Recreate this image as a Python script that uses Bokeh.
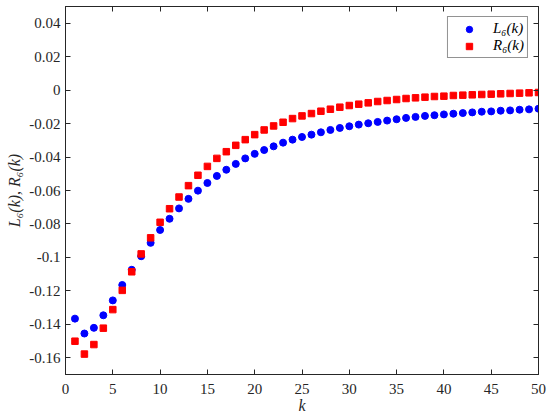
from bokeh.plotting import figure
from bokeh.models import Range1d, LinearAxis, FixedTicker, CustomJSTickFormatter
from bokeh.embed import file_html
from bokeh.resources import INLINE

k = list(range(1, 51))
L6 = [-0.1366, -0.1455, -0.1421, -0.1346, -0.1257, -0.1165, -0.1074, -0.0993, -0.0913, -0.0836,
      -0.0769, -0.0707, -0.0650, -0.0601, -0.0555, -0.0513, -0.0476, -0.0441, -0.0408, -0.0381,
      -0.0358, -0.0336, -0.0314, -0.0296, -0.0280, -0.0266, -0.0252, -0.0238, -0.0226, -0.0216,
      -0.0206, -0.0198, -0.0190, -0.0182, -0.0174, -0.0166, -0.0160, -0.0154, -0.0150, -0.0145,
      -0.0141, -0.0137, -0.0133, -0.0129, -0.0127, -0.0123, -0.0121, -0.0117, -0.0115, -0.0111]
R6 = [-0.1501, -0.1578, -0.1521, -0.1423, -0.1312, -0.1197, -0.1086, -0.0979, -0.0883, -0.0790,
      -0.0709, -0.0639, -0.0571, -0.0509, -0.0456, -0.0408, -0.0368, -0.0330, -0.0296, -0.0266,
      -0.0238, -0.0214, -0.0192, -0.0170, -0.0154, -0.0140, -0.0126, -0.0114, -0.0102, -0.0092,
      -0.0084, -0.0076, -0.0068, -0.0062, -0.0056, -0.0050, -0.0046, -0.0042, -0.0038, -0.0036,
      -0.0032, -0.0030, -0.0028, -0.0026, -0.0024, -0.0022, -0.0020, -0.0018, -0.0016, -0.0014]
x_ticks = [0, 5, 10, 15, 20, 25, 30, 35, 40, 45, 50]
y_ticks = [-0.16, -0.14, -0.12, -0.1, -0.08, -0.06, -0.04, -0.02, 0, 0.02, 0.04]
x_label = "k"
y_label = "L\u2086(k), R\u2086(k)"
series_labels = ["L\u2086(k)", "R\u2086(k)"]

AX = "#262626"
FONT = "Liberation Serif"

p = figure(width=550, height=417, output_backend="svg", toolbar_location=None,
           x_range=Range1d(0, 50), y_range=Range1d(-0.17, 0.05),
           min_border_left=65, min_border_right=12, min_border_top=6, min_border_bottom=43,
           x_axis_label=x_label, y_axis_label=y_label)
p.grid.visible = False
p.outline_line_color = AX
p.outline_line_width = 1

fmt = CustomJSTickFormatter(code="return (Math.round(tick*1000)/1000).toString();")

def style(ax, ticks, show):
    ax.ticker = FixedTicker(ticks=ticks)
    ax.formatter = fmt
    ax.axis_line_color = AX
    ax.major_tick_line_color = AX
    ax.major_tick_in = 5
    ax.major_tick_out = 0
    ax.minor_tick_line_color = None
    ax.major_label_text_font = FONT
    if show:
        ax.major_label_text_color = AX
        ax.major_label_text_font_size = "15px"
        ax.axis_label_text_font = FONT
        ax.axis_label_text_font_size = "16px"
        ax.axis_label_text_font_style = "italic"
        ax.axis_label_text_color = AX
    else:
        ax.major_label_text_color = None
        ax.major_label_text_font_size = "1px"
        ax.major_label_standoff = 0

xb = p.xaxis[0]
yl = p.yaxis[0]
style(xb, x_ticks, True)
style(yl, y_ticks, True)
xb.major_label_standoff = 9
xb.axis_label_standoff = 0
yl.major_label_standoff = 5
yl.axis_label_standoff = 3

top = LinearAxis()
style(top, x_ticks, False)
p.add_layout(top, "above")
right = LinearAxis()
style(right, y_ticks, False)
p.add_layout(right, "right")

p.scatter(k, L6, marker="circle", size=7, color="#0000FF", legend_label=series_labels[0])
p.scatter(k, R6, marker="square", size=6.5, color="#FF0000", legend_label=series_labels[1])

lg = p.legend[0]
lg.location = "top_right"
lg.margin = 10
lg.padding = 3
lg.spacing = 0
lg.glyph_width = 36
lg.glyph_height = 16
lg.label_height = 16
lg.label_standoff = 6
lg.label_text_font = FONT
lg.label_text_font_size = "15px"
lg.label_text_font_style = "italic"
lg.label_text_color = "black"
lg.border_line_color = AX
lg.border_line_width = 1
lg.background_fill_alpha = 1

open("out.html", "w").write(file_html(p, INLINE))
